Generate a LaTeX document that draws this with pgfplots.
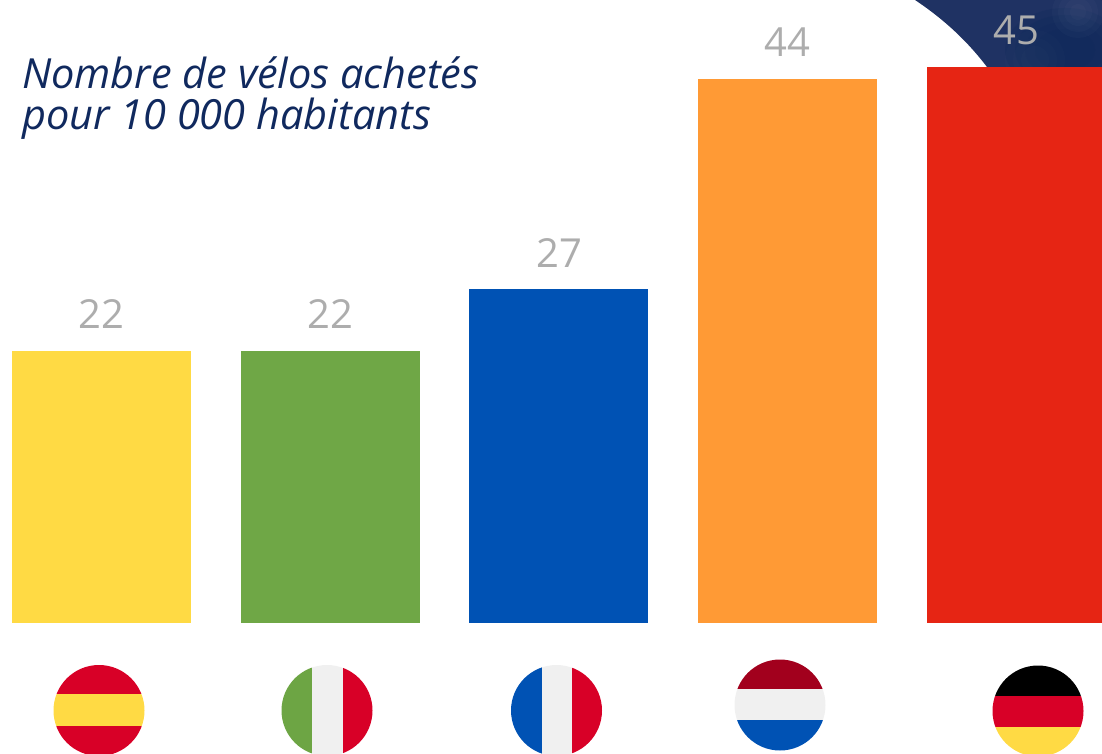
\documentclass[border=0pt]{standalone}
\usepackage{pgfplots}
\usepackage{fontspec}
\setmainfont{Open Sans}
\pgfplotsset{compat=1.18}
\definecolor{fred}{HTML}{D80027}
\definecolor{fyel}{HTML}{FFDA44}
\definecolor{fgre}{HTML}{6DA544}
\definecolor{fblu}{HTML}{0052B4}
\definecolor{fwhi}{HTML}{F0F0F0}
\definecolor{fnld}{HTML}{A2001D}
\definecolor{barG}{HTML}{6FA746}
\definecolor{barO}{HTML}{FF9A35}
\definecolor{barR}{HTML}{E62514}
\definecolor{navy}{HTML}{1F3263}
\definecolor{navyd}{HTML}{10295C}
\definecolor{titl}{HTML}{10295E}
\definecolor{lab}{HTML}{ADADAD}
\pgfplotstableread{
x y
0 22
}\tES
\pgfplotstableread{
x y
1 22
}\tIT
\pgfplotstableread{
x y
2 27
}\tFR
\pgfplotstableread{
x y
3 44
}\tNL
\pgfplotstableread{
x y
4 45
}\tDE
\begin{document}
\begin{tikzpicture}[x=1pt,y=1pt]
\path[use as bounding box] (0,0) rectangle (1102,753);
\begin{scope}
\clip (0,0) rectangle (1102,753);
% dark corner behind the last bar
\begin{scope}[shift={(0,753)},y=-1pt]
\begin{scope}
\clip (915,0) .. controls (945,20) and (968,42) .. (987,67) -- (1102,67) -- (1102,0) -- cycle;
\fill[navy] (900,0) rectangle (1102,67);
\foreach \r in {60,50,40,30}{\fill[navyd,opacity=0.3] (1065,50) ellipse[x radius=\r,y radius=\r*.7];}
\foreach \r in {26,20,14,8}{\fill[white,opacity=0.02] (1078,12) circle[radius=\r];}
\foreach \r in {30,22,14}{\fill[white,opacity=0.012] (1035,60) circle[radius=\r];}
\end{scope}
\end{scope}
\begin{axis}[
  at={(0,0)},anchor=south west,
  scale only axis,width=1102pt,height=753pt,
  xmin=-0.4437,xmax=4.3738,ymin=-10.518,ymax=50.405,
  hide axis,clip=false,
  ybar,bar shift=0pt,bar width=179pt,
  nodes near coords,
  every node near coord/.append style={font=\fontsize{40}{44}\selectfont,text=lab,anchor=south,yshift=22pt,inner sep=0pt,/pgf/number format/assume math mode=true},
]
\addplot[fill=fyel,draw=none] table[x=x,y=y]{\tES};
\addplot[fill=barG,draw=none] table[x=x,y=y]{\tIT};
\addplot[fill=fblu,draw=none] table[x=x,y=y]{\tFR};
\addplot[fill=barO,draw=none] table[x=x,y=y]{\tNL};
\addplot[fill=barR,draw=none] table[x=x,y=y]{\tDE};
\end{axis}
\begin{scope}[shift={(0,753)},y=-1pt]
\node[anchor=base west,inner sep=0pt,text=titl,font=\fontsize{41.5}{46}\selectfont\itshape] at (22,89) {Nombre de vélos achetés};
\node[anchor=base west,inner sep=0pt,text=titl,font=\fontsize{41.5}{46}\selectfont\itshape] at (22,130) {pour 10 000 habitants};
% Spain
\begin{scope}\clip (99,710.5) circle[radius=45.5];
\fill[fred] (50,660) rectangle (150,694);
\fill[fyel] (50,694) rectangle (150,726);
\fill[fred] (50,726) rectangle (150,760);
\end{scope}
% Italy
\begin{scope}\clip (327,710.5) circle[radius=45.5];
\fill[fgre] (280,660) rectangle (312,760);
\fill[fwhi] (312,660) rectangle (343,760);
\fill[fred] (343,660) rectangle (375,760);
\end{scope}
% France
\begin{scope}\clip (556.5,710.5) circle[radius=45.5];
\fill[fblu] (505,660) rectangle (542,760);
\fill[fwhi] (542,660) rectangle (572,760);
\fill[fred] (572,660) rectangle (605,760);
\end{scope}
% Netherlands
\begin{scope}\clip (780,705) circle[radius=45.5];
\fill[fnld] (730,655) rectangle (830,689);
\fill[fwhi] (730,689) rectangle (830,720);
\fill[fblu] (730,720) rectangle (830,755);
\end{scope}
% Germany
\begin{scope}\clip (1038,711) circle[radius=45.5];
\fill[black] (990,660) rectangle (1090,696);
\fill[fred] (990,696) rectangle (1090,727);
\fill[fyel] (990,727) rectangle (1090,760);
\end{scope}
\end{scope}
\end{scope}
\end{tikzpicture}
\end{document}
